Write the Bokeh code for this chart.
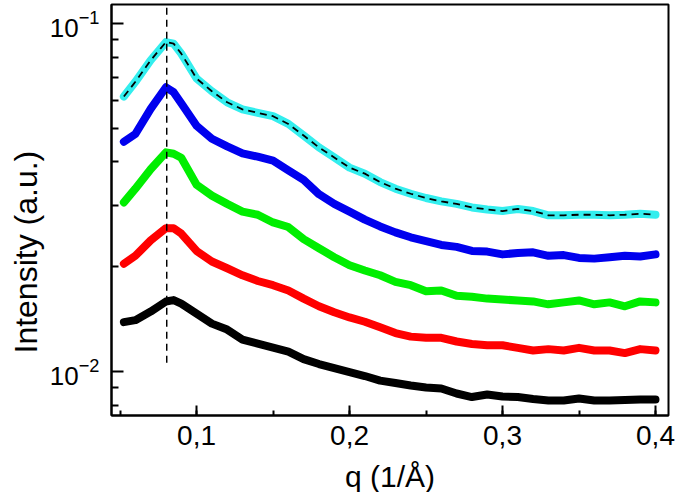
from bokeh.plotting import figure
from bokeh.models import (SingleIntervalTicker, FixedTicker, LogTickFormatter,
                          CustomJSTickFormatter, Range1d, Title)
from bokeh.embed import file_html
from bokeh.resources import INLINE

# q values (1/Å)
q = [0.0525, 0.06, 0.07, 0.08, 0.085, 0.09,
     0.10, 0.11, 0.12, 0.13, 0.14, 0.15, 0.16, 0.17, 0.18, 0.19, 0.20,
     0.21, 0.22, 0.23, 0.24, 0.25, 0.26, 0.27, 0.28, 0.29, 0.30,
     0.31, 0.32, 0.33, 0.34, 0.35, 0.36, 0.37, 0.38, 0.39, 0.40]

cyan = [0.0616, 0.0679, 0.0783, 0.0883, 0.0874, 0.0818,
        0.0694, 0.0638, 0.0593, 0.0566, 0.0553, 0.0541, 0.0514, 0.0476, 0.0440, 0.0412, 0.0385,
        0.0370, 0.0350, 0.0335, 0.0324, 0.0315, 0.0308, 0.0303, 0.0296, 0.0292, 0.0289,
        0.0293, 0.0289, 0.0281, 0.0281, 0.0282, 0.0282, 0.0281, 0.0282, 0.0284, 0.0282]

blue = [0.0457, 0.0481, 0.0568, 0.0655, 0.0634, 0.0589,
        0.0508, 0.0466, 0.0443, 0.0423, 0.0414, 0.0403, 0.0378, 0.0355, 0.0323, 0.0303, 0.0288,
        0.0273, 0.0261, 0.0251, 0.0243, 0.0237, 0.0231, 0.0228, 0.0222, 0.0221, 0.0217,
        0.0219, 0.0220, 0.0215, 0.0216, 0.0212, 0.0211, 0.0213, 0.0215, 0.0214, 0.0217]

green = [0.0306, 0.0335, 0.0381, 0.0426, 0.0422, 0.0411,
         0.0344, 0.0320, 0.0303, 0.0288, 0.0282, 0.0268, 0.0260, 0.0240, 0.0226, 0.0213, 0.0202,
         0.0195, 0.0189, 0.0181, 0.0177, 0.0170, 0.0171, 0.0165, 0.0164, 0.0162, 0.0161,
         0.0160, 0.0159, 0.0156, 0.0158, 0.0160, 0.0156, 0.0158, 0.0154, 0.0159, 0.0158]

red = [0.0204, 0.0215, 0.0238, 0.0258, 0.0258, 0.0249,
       0.0222, 0.0207, 0.0198, 0.0189, 0.0182, 0.0177, 0.0171, 0.0162, 0.0154, 0.0148, 0.0143,
       0.0139, 0.0134, 0.0129, 0.0126, 0.0125, 0.0125, 0.0122, 0.0120, 0.0119, 0.0119,
       0.0117, 0.0115, 0.0116, 0.0115, 0.0117, 0.0115, 0.0115, 0.0113, 0.0116, 0.0115]

black = [0.01387, 0.01405, 0.01487, 0.01589, 0.01604, 0.01567,
         0.01467, 0.01373, 0.01320, 0.01236, 0.01203, 0.01172, 0.01141, 0.01086, 0.01051, 0.01023, 0.00997,
         0.00971, 0.00942, 0.00927, 0.00912, 0.00900, 0.00894, 0.00865, 0.00845, 0.00859, 0.00848,
         0.00845, 0.00834, 0.00826, 0.00826, 0.00837, 0.00826, 0.00826, 0.00829, 0.00831, 0.00831]

# y-axis ticks
y_major = [0.01, 0.1]
y_minor = [0.008, 0.009, 0.02, 0.03, 0.04, 0.05, 0.06, 0.07, 0.08, 0.09]

# vertical reference line at the peak position
peak_q = 0.0805
peak_line_y = [0.0106, 0.2]

series = [(black, "#000000"), (red, "#FF0000"), (green, "#00EE00"),
          (blue, "#0000EE"), (cyan, "#33EEEE")]

FONT = "Liberation Sans"

p = figure(width=675, height=492, frame_width=557, frame_height=411,
           y_axis_type="log", output_backend="svg", toolbar_location=None,
           x_range=Range1d(0.0444, 0.4085), y_range=Range1d(0.00748, 0.1132),
           min_border_left=111, min_border_right=7, min_border_top=4, min_border_bottom=77)

p.grid.visible = False
p.background_fill_color = "white"
p.border_fill_color = "white"
p.outline_line_color = "black"
p.outline_line_width = 2
p.outline_line_alpha = 1.0

for ys, col in series:
    p.line(q, ys, line_color=col, line_width=8, line_join="round", line_cap="round")

# dashed fit over cyan curve
p.line(q, cyan, line_color="black", line_width=1.8, line_dash="7 5")
# vertical dashed line
p.line([peak_q, peak_q], peak_line_y, line_color="black", line_width=1.5, line_dash="7 5")

xa = p.xaxis[0]
xa.ticker = SingleIntervalTicker(interval=0.1, num_minor_ticks=2)
xa.formatter = CustomJSTickFormatter(code="return tick.toFixed(1).replace('.', ',');")
xa.axis_label = "q (1/Å)"

ya = p.yaxis[0]
ya.ticker = FixedTicker(ticks=y_major, minor_ticks=y_minor)
ya.formatter = LogTickFormatter()

for ax in (xa, ya):
    ax.axis_line_width = 2
    ax.axis_line_color = "black"
    ax.major_tick_line_width = 2
    ax.minor_tick_line_width = 2
    ax.major_tick_line_color = "black"
    ax.minor_tick_line_color = "black"
    ax.major_tick_out = 0
    ax.minor_tick_out = 0
    ax.major_label_text_font = FONT
    ax.axis_label_text_font = FONT
    ax.axis_label_text_font_style = "normal"
    ax.major_label_text_color = "black"
    ax.axis_label_text_color = "black"

xa.major_tick_in = 10
xa.minor_tick_in = 5
xa.major_label_text_font_size = "28px"
xa.axis_label_text_font_size = "30px"
xa.major_label_standoff = 10
xa.axis_label_standoff = 12

ya.major_tick_in = 12
ya.minor_tick_in = 7
ya.major_label_text_font_size = "26px"
ya.major_label_standoff = 12

# y-axis title as a side title (lets it be shifted along the axis)
ytitle = Title(text="Intensity (a.u.)", align="left", offset=62,
               text_font=FONT, text_font_size="32px", text_font_style="normal",
               text_color="black", standoff=5)
p.add_layout(ytitle, "left")

open("out.html", "w").write(file_html(p, INLINE))
